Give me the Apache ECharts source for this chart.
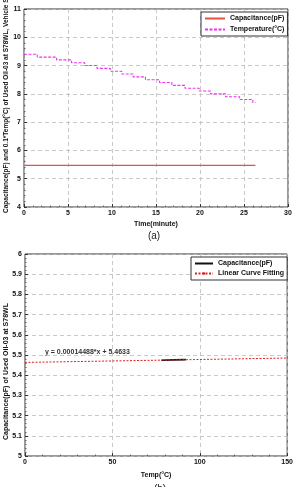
<!DOCTYPE html>
<html>
<head>
<meta charset="utf-8">
<script src="https://cdn.jsdelivr.net/npm/echarts@6/dist/echarts.min.js"></script>
<style>
  html, body { margin: 0; padding: 0; background: #fff; }
  #chart { width: 296px; height: 487px; }
</style>
</head>
<body>
<div id="chart"></div>
<script>
// (a) time trace
const timeTicks = [0, 5, 10, 15, 20, 25, 30];
const capTime = [0, 26.3];
const capValue = [5.47, 5.47];
const tempTime = [0, 1.5, 3.7, 5.4, 6.9, 8.3, 9.8, 11.1, 12.4, 13.8, 15.4, 16.8, 18.3, 19.9, 21.2, 22.9, 24.5, 26.0, 26.3];
const tempValue = [9.4, 9.3, 9.2, 9.1, 9.0, 8.9, 8.8, 8.7, 8.6, 8.5, 8.4, 8.3, 8.2, 8.1, 8.0, 7.9, 7.8, 7.7, 7.7];

// (b) capacitance vs temperature
const measTemp = [78, 85, 92];
const measCap = [5.474, 5.476, 5.477];
const fitTemp = [0, 150];
const fitCap = [5.4633, 5.485];

const pairs = (xs, ys) => xs.map((x, i) => [x, ys[i]]);

const tickFont = { fontFamily: 'Liberation Sans', fontWeight: 'bold', fontSize: 7, color: '#111' };
const gridLine = { show: true, lineStyle: { color: '#bbb', type: [4, 3], width: 0.8 } };

function axisBase(extra) {
  return Object.assign({
    axisLine: { show: false },
    axisTick: { inside: true, length: 3, lineStyle: { color: '#333' } },
    minorTick: { show: true, splitNumber: 5, length: 1.5, lineStyle: { color: '#666' } },
    axisLabel: Object.assign({ margin: 3 }, tickFont),
    splitLine: gridLine
  }, extra);
}

const legendText = { fontFamily: 'Liberation Sans', fontWeight: 'bold', fontSize: 7, color: '#111' };
const noMarker = { color: 'transparent', borderColor: 'transparent', borderWidth: 0 };

const chart = echarts.init(document.getElementById('chart'));
chart.setOption({
  animation: false,
  backgroundColor: '#fff',
  grid: [
    { left: 24, top: 9, width: 264, height: 198, show: true, borderColor: '#333', borderWidth: 1 },
    { left: 25, top: 254, width: 263, height: 202, show: true, borderColor: '#333', borderWidth: 1 }
  ],
  xAxis: [
    axisBase({ gridIndex: 0, type: 'value', min: 0, max: 30, interval: 5,
      name: 'Time(minute)', nameLocation: 'middle', nameGap: 14,
      nameTextStyle: { fontFamily: 'Liberation Sans', fontWeight: 'bold', fontSize: 7, color: '#111' } }),
    axisBase({ gridIndex: 1, type: 'value', min: 0, max: 150, interval: 50,
      name: 'Temp(°C)', nameLocation: 'middle', nameGap: 16,
      nameTextStyle: { fontFamily: 'Liberation Sans', fontWeight: 'bold', fontSize: 7, color: '#111' } })
  ],
  yAxis: [
    axisBase({ gridIndex: 0, type: 'value', min: 4, max: 11, interval: 1 }),
    axisBase({ gridIndex: 1, type: 'value', min: 5, max: 6, interval: 0.1,
      axisLabel: Object.assign({ margin: 3, formatter: v => (Math.round(v * 10) / 10).toString() }, tickFont) })
  ],
  legend: [
    {
      data: [
        { name: 'Capacitance(pF)', itemStyle: noMarker },
        { name: 'Temperature(°C)', itemStyle: noMarker }
      ],
      orient: 'vertical', left: 201, top: 12,
      padding: [3, 3, 3, 3], itemGap: 4, itemWidth: 20, itemHeight: 6,
      backgroundColor: '#fff', borderColor: '#333', borderWidth: 1, borderRadius: 0,
      textStyle: legendText
    },
    {
      data: [
        { name: 'Capacitance(pF) ', itemStyle: noMarker },
        { name: 'Linear Curve Fitting', itemStyle: { color: '#e02020', borderWidth: 0 } }
      ],
      orient: 'vertical', left: 191, top: 257,
      padding: [3, 3, 3, 3], itemGap: 3, itemWidth: 18, itemHeight: 3,
      backgroundColor: '#fff', borderColor: '#333', borderWidth: 1, borderRadius: 0,
      textStyle: legendText
    }
  ],
  series: [
    {
      name: 'Capacitance(pF)', type: 'line', xAxisIndex: 0, yAxisIndex: 0,
      data: pairs(capTime, capValue), symbol: 'none',
      lineStyle: { color: '#e8504a', width: 1.3 }, itemStyle: { color: '#e8504a' }
    },
    {
      name: 'Temperature(°C)', type: 'line', xAxisIndex: 0, yAxisIndex: 0,
      data: pairs(tempTime, tempValue), symbol: 'none', step: 'end',
      lineStyle: { color: '#ee33ee', width: 1.1, type: [3, 1.5] }, itemStyle: { color: '#ee33ee' }
    },
    {
      name: 'Capacitance(pF) ', type: 'line', xAxisIndex: 1, yAxisIndex: 1,
      data: pairs(measTemp, measCap), symbol: 'none',
      lineStyle: { color: '#111', width: 1.6 }, itemStyle: { color: '#111' }
    },
    {
      name: 'Linear Curve Fitting', type: 'line', xAxisIndex: 1, yAxisIndex: 1,
      data: pairs(fitTemp, fitCap), symbol: 'none',
      lineStyle: { color: '#e02020', width: 1, type: [2, 1.5] }, itemStyle: { color: '#e02020' }
    }
  ],
  graphic: [
    { type: 'text', x: 6, y: 213, rotation: Math.PI / 2,
      style: { text: 'Capacitance(pF) and 0.1*Temp(°C) of Used Oil-03 at S78WL, Vehicle Speed',
        font: 'bold 6.5px "Liberation Sans"', fill: '#111', textAlign: 'left', textVerticalAlign: 'middle' } },
    { type: 'text', x: 6, y: 440, rotation: Math.PI / 2,
      style: { text: 'Capacitance(pF) of Used Oil-03 at S78WL',
        font: 'bold 7px "Liberation Sans"', fill: '#111', textAlign: 'left', textVerticalAlign: 'middle' } },
    { type: 'text', x: 45, y: 352,
      style: { text: 'y = 0.00014488*x + 5.4633',
        font: 'bold 7px "Liberation Sans"', fill: '#333', textAlign: 'left', textVerticalAlign: 'middle' } },
    { type: 'text', x: 154, y: 236,
      style: { text: '(a)', font: '10px "Liberation Sans"', fill: '#222', textAlign: 'center', textVerticalAlign: 'middle' } },
    { type: 'text', x: 160, y: 489,
      style: { text: '(b)', font: '10px "Liberation Sans"', fill: '#222', textAlign: 'center', textVerticalAlign: 'middle' } }
  ]
});
</script>
</body>
</html>
